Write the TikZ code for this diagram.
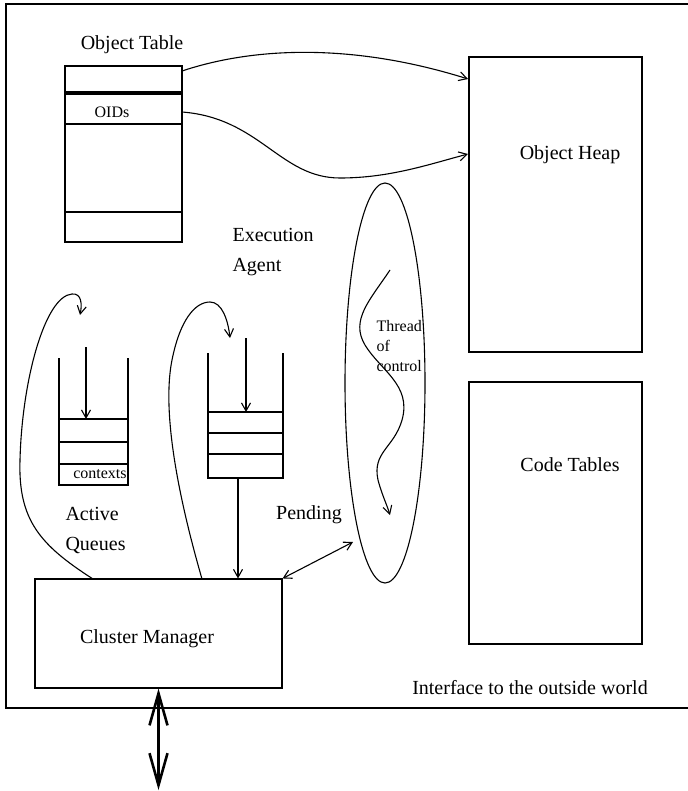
\documentclass[tikz,border=0pt]{standalone}
\usepackage{fontspec}
\setmainfont{Liberation Serif}
\usetikzlibrary{arrows.meta}
\usetikzlibrary{shapes.geometric}

\begin{document}
\begin{tikzpicture}[x=0.5pt,y=-0.5pt,line width=0.55pt,
  lbl/.style={font=\fontsize{10}{15}\selectfont, inner sep=0pt},
  small/.style={font=\fontsize{8}{10}\selectfont, inner sep=0pt},
  arr/.style={-{Straight Barb[length=4pt,width=4.5pt]}},
  darr/.style={{Straight Barb[length=4pt,width=4.5pt]}-{Straight Barb[length=4pt,width=4.5pt]}}]
\useasboundingbox (0,0) rectangle (688,791);

\draw[line width=0.9pt] (688,4) -- (6,4) -- (6,708) -- (688,708);

% object table
\node[lbl] (otlabel) at (132,45) {Object Table};
\draw (65,66) rectangle (182,242);
\foreach \y in {92,94,124,212}{
 \draw (65,\y) -- (182,\y);
}
\node[small] (oids) at (112,112) {OIDs};
\coordinate (ot1) at (182,71);
\coordinate (ot2) at (182,112);

% heap and code tables
\node[draw, minimum width=86.5pt, minimum height=147.5pt] (heap) at (555.5,204.5) {};
\node[lbl] (heaplabel) at (570,155) {Object Heap};
\node[draw, minimum width=86.5pt, minimum height=131pt] (code) at (555.5,513) {};
\node[lbl] (codelabel) at (570,465) {Code Tables};
\coordinate (h1) at (468,79);
\coordinate (h2) at (468,154);

\draw[arr] (ot1) .. controls (260,45) and (360,45) .. (h1);
\draw[arr] (ot2) .. controls (260,118) and (280,178) .. (340,178) .. controls (390,178) and (430,164) .. (h2);

% execution agent
\node[lbl, align=left, anchor=west] (exec) at (232,252) {Execution\\Agent};
\node[draw, ellipse, minimum width=40pt, minimum height=200pt, inner sep=0pt] (agent) at (385,383) {};
\node[small, align=left, anchor=north west] (thread) at (376,320) {Thread\\of\\control};
\coordinate (t0) at (390,270);
\coordinate (t1) at (390,515);
\draw[arr] (t0) .. controls (370,300) and (350,320) .. (365,345) .. controls (380,370) and (412,385) .. (402,420) .. controls (394,448) and (372,452) .. (378,480) .. controls (382,495) and (387,505) .. (t1);

% queues
\draw (59,358) -- (59,485) -- (128,485) -- (128,358);
\foreach \y in {419,442,464}{
 \draw (59,\y) -- (128,\y);
}
\node[small] (ctx) at (100,474) {contexts};
\coordinate (q1in) at (86,347);
\coordinate (q1top) at (86,419);
\draw[arr] (q1in) -- (q1top);

\draw (208,353) -- (208,478) -- (283,478) -- (283,353);
\foreach \y in {412,433,454}{
 \draw (208,\y) -- (283,\y);
}
\coordinate (q2in) at (246,338);
\coordinate (q2top) at (246,412);
\coordinate (q2out) at (238,478);
\draw[arr] (q2in) -- (q2top);

\node[lbl, align=left, anchor=west] (active) at (65,530) {Active\\Queues};
\node[lbl] (pending) at (309,515) {Pending};

% cluster manager
\node[draw, minimum width=123.5pt, minimum height=54.5pt] (cm) at (158.5,633.5) {};
\node[lbl] (cmlabel) at (147,639) {Cluster Manager};
\node[lbl] (iface) at (530,688) {Interface to the outside world};

\draw[arr] (q2out) -- (q2out |- cm.north);
\draw[darr] (cm.north east) -- (353,542);

\coordinate (a1) at (80,315);
\coordinate (a2) at (230,338);
\draw[arr] (93,579) .. controls (40,545) and (18,520) .. (20,460) .. controls (22,380) and (45,296) .. (72,294) .. controls (82,293) and (82,305) .. (a1);
\draw[arr] (202,579) .. controls (185,520) and (160,420) .. (172,360) .. controls (180,320) and (195,302) .. (210,302) .. controls (222,302) and (228,320) .. (a2);

\coordinate (outside) at (158.5,790);
\draw[line width=1.3pt, {Straight Barb[length=16pt,width=9pt]}-{Straight Barb[length=16pt,width=9pt]}] (cm.south) -- (outside);
\end{tikzpicture}
\end{document}
